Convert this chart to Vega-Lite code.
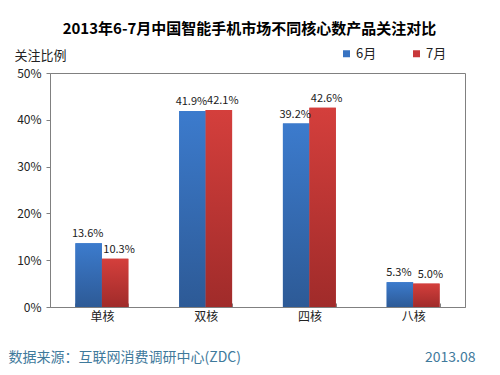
{
  "$schema": "https://vega.github.io/schema/vega-lite/v6.json",
  "autosize": "none",
  "width": 415,
  "height": 234,
  "padding": {"left": 50, "top": 73, "right": 35, "bottom": 68},
  "background": "white",
  "title": {
    "text": "2013年6-7月中国智能手机市场不同核心数产品关注对比",
    "font": "Noto Sans CJK SC",
    "fontSize": 15,
    "fontWeight": "bold",
    "color": "#000000",
    "anchor": "middle",
    "frame": "group",
    "dx": -8,
    "offset": 10
  },
  "config": {
    "font": "Noto Sans CJK SC",
    "view": {"stroke": "#808080", "strokeWidth": 1}
  },
  "data": {
    "values": [
      {"core": "单核", "month": "6月", "value": 0.136},
      {"core": "单核", "month": "7月", "value": 0.103},
      {"core": "双核", "month": "6月", "value": 0.419},
      {"core": "双核", "month": "7月", "value": 0.421},
      {"core": "四核", "month": "6月", "value": 0.392},
      {"core": "四核", "month": "7月", "value": 0.426},
      {"core": "八核", "month": "6月", "value": 0.053},
      {"core": "八核", "month": "7月", "value": 0.050}
    ]
  },
  "encoding": {
    "x": {
      "field": "core",
      "type": "nominal",
      "sort": ["单核", "双核", "四核", "八核"],
      "scale": {"paddingInner": 0.49, "paddingOuter": 0.245},
      "axis": {
        "labelAngle": 0,
        "labelFontSize": 12,
        "labelColor": "#222222",
        "domainColor": "#808080",
        "tickColor": "#808080",
        "tickBand": "extent",
        "tickSize": -4,
        "labelPadding": 8,
        "title": "数据来源：互联网消费调研中心(ZDC)",
        "titleFontSize": 14,
        "titleFontWeight": "normal",
        "titleColor": "#3f7a9c",
        "titleAnchor": "start",
        "titleAlign": "left",
        "titleBaseline": "middle",
        "titleX": -42,
        "titleY": 50
      }
    },
    "xOffset": {"field": "month", "type": "nominal", "scale": {"domain": ["6月", "7月"]}}
  },
  "layer": [
    {
      "encoding": {
        "y": {
          "field": "value",
          "type": "quantitative",
          "scale": {"domain": [0, 0.5]},
          "axis": {
            "values": [0, 0.1, 0.2, 0.3, 0.4, 0.5],
            "format": ".0%",
            "grid": false,
            "labelFontSize": 12,
            "labelColor": "#222222",
            "domainColor": "#808080",
            "tickColor": "#808080",
            "tickSize": 4,
            "labelPadding": 5,
            "title": "关注比例",
            "titleAngle": 0,
            "titleFontSize": 13,
            "titleFontWeight": "normal",
            "titleColor": "#222222",
            "titleAlign": "left",
            "titleBaseline": "middle",
            "titleAnchor": "start",
            "titleX": -36,
            "titleY": -18
          }
        }
      },
      "layer": [
        {
          "mark": {"type": "bar"},
          "encoding": {
            "color": {
              "field": "month",
              "type": "nominal",
              "scale": {"domain": ["6月", "7月"], "range": ["#3873c2", "#c8383a"]},
              "legend": {
                "title": null,
                "orient": "none",
                "direction": "horizontal",
                "legendX": 290,
                "legendY": -26,
                "symbolType": "square",
                "symbolSize": 49,
                "symbolStrokeWidth": 0,
                "labelFontSize": 13,
                "labelColor": "#222222",
                "labelOffset": 3,
                "columnPadding": 33
              }
            }
          }
        },
        {
          "transform": [{"filter": "datum.month === '6月'"}],
          "mark": {
            "type": "bar",
            "color": {
              "gradient": "linear", "x1": 0, "y1": 0, "x2": 0, "y2": 1,
              "stops": [{"offset": 0, "color": "#3c7bcd"}, {"offset": 1, "color": "#2d5a96"}]
            }
          }
        },
        {
          "transform": [{"filter": "datum.month === '7月'"}],
          "mark": {
            "type": "bar",
            "color": {
              "gradient": "linear", "x1": 0, "y1": 0, "x2": 0, "y2": 1,
              "stops": [{"offset": 0, "color": "#d43f3c"}, {"offset": 1, "color": "#a02b2a"}]
            }
          }
        }
      ]
    },
    {
      "encoding": {
        "y": {
          "field": "value",
          "type": "quantitative",
          "scale": {"domain": [0, 0.5]},
          "axis": {
            "orient": "right",
            "labels": false,
            "ticks": false,
            "domain": false,
            "grid": false,
            "title": "2013.08",
            "titleAngle": 0,
            "titleFontSize": 14,
            "titleFontWeight": "normal",
            "titleColor": "#3f7a9c",
            "titleAlign": "right",
            "titleBaseline": "middle",
            "titleX": 10,
            "titleY": 284
          }
        },
        "text": {"field": "value", "type": "quantitative", "format": ".1%"}
      },
      "layer": [
        {
          "transform": [{"filter": "datum.month === '6月'"}],
          "mark": {"type": "text", "baseline": "bottom", "dy": -4, "dx": -1, "fontSize": 11, "color": "#1a1a1a"}
        },
        {
          "transform": [{"filter": "datum.month === '7月'"}],
          "mark": {"type": "text", "baseline": "bottom", "dy": -4, "dx": 4, "fontSize": 11, "color": "#1a1a1a"}
        }
      ]
    }
  ],
  "resolve": {"scale": {"y": "independent"}}
}
